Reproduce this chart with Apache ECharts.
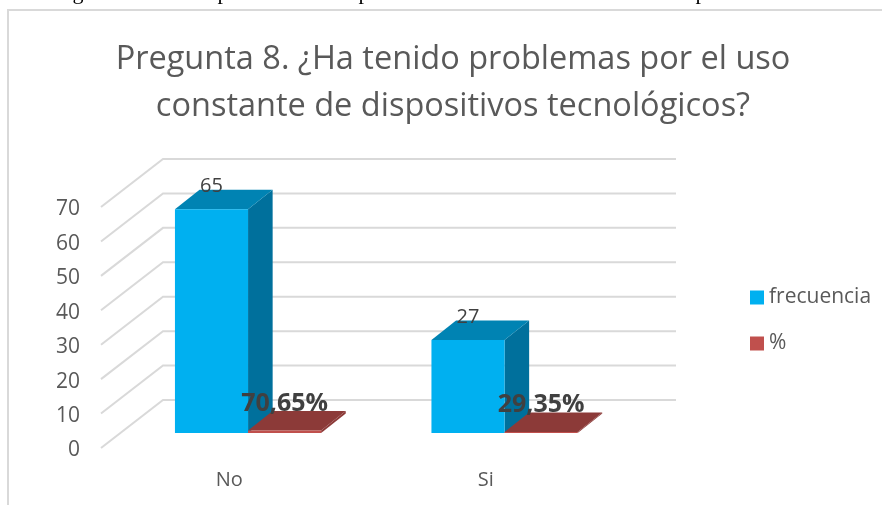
<!DOCTYPE html>
<html>
<head>
<meta charset="utf-8">
<style>
  html, body { margin: 0; padding: 0; background: #fff; }
  #chart { width: 882px; height: 505px; }
</style>
<script src="https://cdn.jsdelivr.net/npm/echarts@6/dist/echarts.min.js"></script>
</head>
<body>
<div id="chart"></div>
<script>
var titleText = "Pregunta 8. ¿Ha tenido problemas por el uso\nconstante de dispositivos tecnológicos?";
var categories = ["No", "Si"];
var frecuencia = [65, 27];
var porcentaje = [0.7065, 0.2935];
var porcentajeLabels = ["70,65%", "29,35%"];
var yTicks = [0, 10, 20, 30, 40, 50, 60, 70];

var fontName = "Open Sans";
// 3d look: offsets of the back wall and of the bars, in px
var wallDx = 62, wallDy = -48;
var baseDx = 18.8, baseDy = -15;
var depthDx = 24.6, depthDy = -19.5;
var barRatio = 0.285;

function poly(points, color) {
  return { type: "polygon", shape: { points: points }, style: { fill: color } };
}

// tails of the caption line cut off by the crop at the very top
function captionTail(letter, x) {
  return {
    type: "text",
    x: x,
    y: -7,
    style: { text: letter, fill: "#000", font: "22px 'Liberation Serif'", align: "center", verticalAlign: "middle" }
  };
}

// side: 0 = frecuencia, 1 = %
function render3dBar(side, colors, labelStyle) {
  return function (params, api) {
    var band = api.size([1, 0])[0];
    var base = api.coord([api.value(0), 0]);
    var top = api.coord([api.value(0), api.value(1)]);
    var w = band * barRatio;
    var x0 = base[0] + baseDx - w + side * w;
    var x1 = x0 + w;
    var yb = base[1] + baseDy;
    var yt = top[1] + baseDy;
    return {
      type: "group",
      children: [
        poly([[x1, yb], [x1 + depthDx, yb + depthDy], [x1 + depthDx, yt + depthDy], [x1, yt]], colors[2]),
        poly([[x0, yt], [x1, yt], [x1 + depthDx, yt + depthDy], [x0 + depthDx, yt + depthDy]], colors[1]),
        poly([[x0, yb], [x1, yb], [x1, yt], [x0, yt]], colors[0]),
        {
          type: "text",
          z2: 10,
          style: {
            x: (x0 + x1) / 2,
            y: yt + labelStyle.dy,
            text: labelStyle.texts[params.dataIndex],
            fill: "#404040",
            font: labelStyle.font,
            align: "center",
            verticalAlign: "middle"
          }
        }
      ]
    };
  };
}

var myChart = echarts.init(document.getElementById("chart"), null, { renderer: "canvas" });
myChart.setOption({
  animation: false,
  backgroundColor: "#fff",
  title: {
    text: titleText,
    left: 453,
    top: 36,
    padding: 0,
    textAlign: "center",
    textStyle: {
      fontFamily: fontName,
      fontWeight: "normal",
      fontSize: 32.5,
      lineHeight: 47,
      color: "#595959"
    }
  },
  legend: {
    orient: "vertical",
    left: 750,
    top: 287,
    padding: 0,
    itemWidth: 14,
    itemHeight: 14,
    itemGap: 25,
    icon: "rect",
    data: ["frecuencia", "%"],
    textStyle: { fontFamily: fontName, fontSize: 21, color: "#595959" }
  },
  grid: { left: 101, top: 207, width: 513, height: 241 },
  xAxis: {
    type: "category",
    data: categories,
    axisLine: { show: false },
    axisTick: { show: false },
    axisLabel: { fontFamily: fontName, fontSize: 20, color: "#595959", margin: 22 }
  },
  yAxis: {
    type: "value",
    min: 0,
    max: 70,
    interval: 10,
    axisLine: { show: false },
    axisTick: { show: false },
    splitLine: { show: false },
    axisLabel: { fontFamily: fontName, fontSize: 21, color: "#595959", margin: 21, verticalAlign: "top", lineHeight: 5 }
  },
  graphic: [
    // chart frame, only top and left show inside the crop
    { type: "polyline", shape: { points: [[8, 505], [8, 10], [882, 10]] }, style: { fill: null, stroke: "#d9d9d9", lineWidth: 2 } },
    captionTail("g", 78),
    captionTail("p", 223),
    captionTail("p", 364),
    captionTail("p", 701)
  ],
  series: [
    {
      // walls
      type: "custom",
      silent: true,
      z: 1,
      data: yTicks.map(function (t) { return [t]; }),
      encode: { y: 0 },
      renderItem: function (params, api) {
        var grid = params.coordSys;
        var y = api.coord([0, api.value(0)])[1];
        var x = grid.x;
        return {
          type: "polyline",
          shape: { points: [[x, y], [x + wallDx, y + wallDy], [x + grid.width + wallDx, y + wallDy]] },
          style: { fill: null, stroke: "#d9d9d9", lineWidth: 2 }
        };
      }
    },
    {
      name: "frecuencia",
      type: "custom",
      z: 3,
      itemStyle: { color: "#00b0f0" },
      data: frecuencia.map(function (v, i) { return [i, v]; }),
      encode: { x: 0, y: 1 },
      renderItem: render3dBar(0, ["#00b0f0", "#0083b3", "#00709c"], {
        dy: -23, texts: frecuencia.map(String), font: "20px 'Open Sans'"
      })
    },
    {
      name: "%",
      type: "custom",
      z: 4,
      itemStyle: { color: "#c0504d" },
      data: porcentaje.map(function (v, i) { return [i, v]; }),
      encode: { x: 0, y: 1 },
      renderItem: render3dBar(1, ["#c0504d", "#8c3a38", "#8c3a38"], {
        dy: -27, texts: porcentajeLabels, font: "bold 25px 'Open Sans'"
      })
    }
  ]
});
</script>
</body>
</html>
